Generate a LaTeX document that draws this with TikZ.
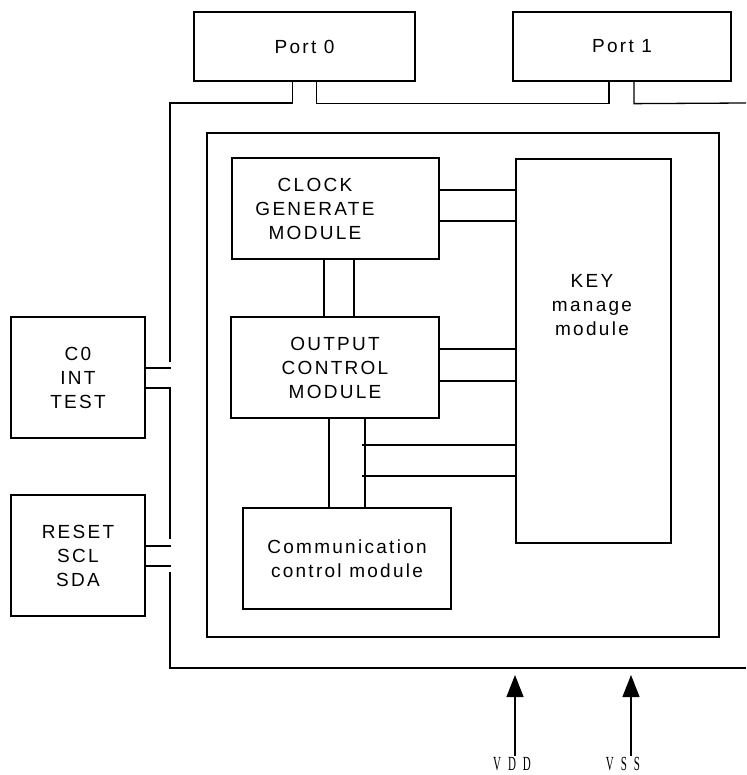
\documentclass[tikz,border=0pt]{standalone}
\usepackage{fontspec}
\setmainfont{Liberation Sans}[LetterSpace=12]
\newfontfamily\pinfont{Liberation Serif}[FakeStretch=0.55]
\usetikzlibrary{arrows.meta}

\begin{document}
\begin{tikzpicture}[x = 1pt, y = -1pt, line width = 1.3pt, font = \fontsize{19}{24}\selectfont,
  block/.style = {draw, align = center, inner sep = 0pt},
  pinlabel/.style = {font = \pinfont\fontsize{20}{22}\selectfont, inner sep = 1pt},
  supply/.style = {-{Triangle[width = 17pt, length = 22pt]}}]
  \useasboundingbox (0, 0) rectangle (746, 775);

  % ports and pin groups
  \node (port0) [block, minimum width = 221pt, minimum height = 69pt] at (304.5, 46.5) {Port 0};
  \node (port1) [block, minimum width = 218pt, minimum height = 69pt] at (622, 46.5) {Port 1};
  \node (pins) [block, minimum width = 134pt, minimum height = 121pt] at (78, 377.5) {C0\\INT\\TEST};
  \node (reset) [block, minimum width = 134pt, minimum height = 121pt] at (78, 555.5) {RESET\\SCL\\SDA};

  % chip and its modules
  \node (chip) [block, minimum width = 512pt, minimum height = 504pt] at (463, 385) {};
  \node (clock) [block, minimum width = 207pt, minimum height = 101pt] at (335.5, 208.5) {};
  \node (clocktext) [align = center] at (315, 209) {CLOCK\\GENERATE\\MODULE};
  \node (output) [block, minimum width = 208pt, minimum height = 101pt] at (335, 367.5) {OUTPUT\\CONTROL\\MODULE};
  \node (comm) [block, minimum width = 208pt, minimum height = 101pt] at (347, 558.5) {Communication\\control module};
  \node (key) [block, minimum width = 155pt, minimum height = 384pt] at (593.5, 351) {};
  \node (keytext) [align = center] at (592, 305) {KEY\\manage\\module};

  % outer bus
  \coordinate (busTL) at (170, 103);
  \coordinate (busL1) at (170, 362);
  \coordinate (busL2) at (170, 539);
  \coordinate (busL3) at (170, 572);
  \coordinate (busTR) at (746, 103);
  \coordinate (busBR) at (746, 668);
  \draw ([xshift = -12pt]port0.south) |- (busTL) -- (busL1);
  \draw ([xshift = 12pt]port0.south) -- ++(0, 22) -| ([xshift = -13pt]port1.south);
  \draw ([xshift = 12pt]port1.south) -- ++(0, 22) -- (busTR);
  \draw ([yshift = 9.5pt]pins.east) -- ++(25, 0);
  \draw ([yshift = -10.5pt]pins.east) -| (busL2);
  \draw ([yshift = 9.5pt]reset.east) -- ++(25, 0);
  \draw ([yshift = -10.5pt]reset.east) -- ++(25, 0);
  \draw (busL3) |- (busBR);

  % module links
  \draw (clock.east |- 0, 190) -- (key.west |- 0, 190);
  \draw (clock.east |- 0, 221) -- (key.west |- 0, 221);
  \draw (clock.south -| 324, 0) -- (output.north -| 324, 0);
  \draw (clock.south -| 354, 0) -- (output.north -| 354, 0);
  \draw (output.east |- 0, 349) -- (key.west |- 0, 349);
  \draw (output.east |- 0, 381) -- (key.west |- 0, 381);
  \draw (output.south -| 329, 0) -- (comm.north -| 329, 0);
  \draw (output.south -| 365, 0) -- (comm.north -| 365, 0);
  \coordinate (tap1) at (362, 445);
  \coordinate (tap2) at (362, 476);
  \draw (tap1) -- (key.west |- tap1);
  \draw (tap2) -- (key.west |- tap2);

  % supply pins
  \node (vdd) [pinlabel] at (512, 764) {V\hspace{7pt}D\hspace{7pt}D};
  \node (vss) [pinlabel] at (623, 764) {V\hspace{7pt}S\hspace{7pt}S};
  \draw [supply] (vdd.north -| 515, 0) -- (515, 675);
  \draw [supply] (vss.north -| 631, 0) -- (631, 675);
\end{tikzpicture}
\end{document}
